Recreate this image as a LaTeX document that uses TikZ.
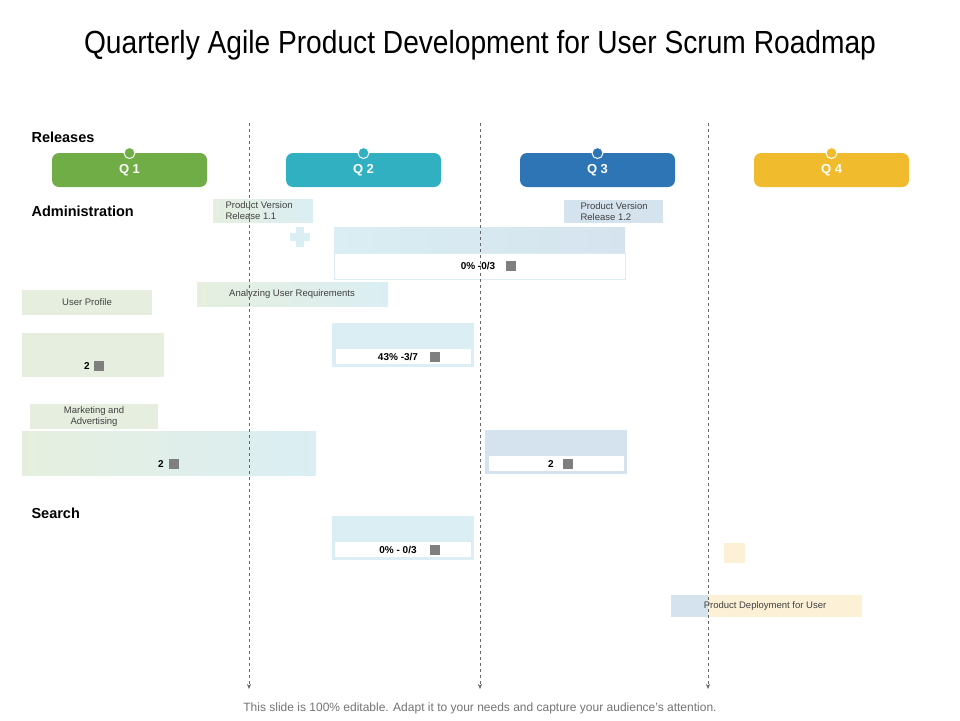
\documentclass[tikz,border=0pt]{standalone}
\usepackage{fontspec}
\setmainfont{Liberation Sans}
\usetikzlibrary{arrows.meta}
\definecolor{qg}{HTML}{70AD47}\definecolor{qt}{HTML}{31B0C1}
\definecolor{qb}{HTML}{2E75B6}\definecolor{qy}{HTML}{F0BC2E}
\definecolor{lg}{HTML}{E6EFDF}\definecolor{lb}{HTML}{DAEEF3}
\definecolor{ls}{HTML}{D5E3EE}\definecolor{cr}{HTML}{FCF1D6}
\definecolor{sq}{HTML}{7F7F7F}
\tikzset{
 pill/.style={rounded corners=7pt,minimum width=155pt,minimum height=34pt,inner sep=0pt,font=\bfseries\fontsize{13}{13}\selectfont,text=white},
 dot/.style={circle,draw=white,line width=1pt,minimum size=11pt,inner sep=0pt},
 head/.style={anchor=west,font=\bfseries\fontsize{14.5}{14.5}\selectfont},
 lbl/.style={font=\fontsize{9.5}{11}\selectfont,text=black!75,align=left},
 val/.style={font=\bfseries\fontsize{10}{10}\selectfont},
 vline/.style={dashed,draw=black!60,-{Stealth[length=5pt,width=4pt]}},
}
\newcommand{\sqm}[1]{\fill[sq] (#1) ++(-5,-5) rectangle ++(10,10);}
\begin{document}
\begin{tikzpicture}[x=1pt,y=-1pt]
\useasboundingbox (0,0) rectangle (960,720);
\node (title) at (480,45) {\fontsize{32}{32}\selectfont\addfontfeature{FakeStretch=0.88}Quarterly Agile Product Development for User Scrum Roadmap};
\shade[left color=lg,right color=lb] (213,199) rectangle (313,222);
\node[lbl,anchor=west] (pv1) at (222,210.5) {Product Version\\Release 1.1};
\fill[lb] (296,227) rectangle (304,247); \fill[lb] (290,233) rectangle (310,241);
\shade[left color=lb,right color=ls] (334,227) rectangle (625,253);
\draw[lb,fill=white] (334,253) rectangle (625,279);
\node[val] (v1) at (478,266) {0\% -0/3}; \sqm{511,266}
\fill[ls] (564,200) rectangle (663,223);
\node[lbl,anchor=west] (pv2) at (577,211.5) {Product Version\\Release 1.2};
\shade[left color=lg,right color=lb] (197,282) rectangle (388,306);
\node[lbl] (aur) at (292,294) {Analyzing User Requirements};
\fill[lg] (22,290) rectangle (152,315);
\node[lbl] (up) at (87,302.5) {User Profile};
\fill[lg] (22,333) rectangle (164,377);
\node[val] (v2) at (87,366) {2}; \sqm{99,366}
\fill[lb] (332,323) rectangle (474,367); \fill[white] (336,349) rectangle (471,364);
\node[val] (v3) at (398,357) {43\% -3/7}; \sqm{435,357}
\fill[lg] (30,404) rectangle (158,429);
\node[lbl,align=center] (ma) at (94,416.5) {Marketing and\\Advertising};
\shade[left color=lg,right color=lb] (22,431) rectangle (316,475);
\node[val] (v4) at (161,464) {2}; \sqm{174,464}
\fill[ls] (485,430) rectangle (627,474); \fill[white] (489,456) rectangle (624,471);
\node[val] (v5) at (551,464) {2}; \sqm{568,464}
\fill[lb] (332,516) rectangle (474,560); \fill[white] (335,542) rectangle (471,557);
\node[val] (v6) at (398,550) {0\% - 0/3}; \sqm{435,550}
\fill[cr] (724,543) rectangle (745,563);
\fill[ls] (671,595) rectangle (708,617); \fill[cr] (708,595) rectangle (862,617);
\node[lbl] (pd) at (765,606) {Product Deployment for User};
\coordinate (t1) at (249,123); \coordinate (b1) at (249,689);
\coordinate (t2) at (480,123); \coordinate (b2) at (480,689);
\coordinate (t3) at (708,123); \coordinate (b3) at (708,689);
\draw[vline] (t1) -- (b1); \draw[vline] (t2) -- (b2); \draw[vline] (t3) -- (b3);
\node[head] (rel) at (28,137) {Releases};
\node[head] (adm) at (28,211) {Administration};
\node[head] (sea) at (28,513) {Search};
\node[pill,fill=qg] (q1) at (129.5,170) {Q 1}; \node[dot,fill=qg] (d1) at (129.5,153) {};
\node[pill,fill=qt] (q2) at (363.5,170) {Q 2}; \node[dot,fill=qt] (d2) at (363.5,153) {};
\node[pill,fill=qb] (q3) at (597.5,170) {Q 3}; \node[dot,fill=qb] (d3) at (597.5,153) {};
\node[pill,fill=qy] (q4) at (831.5,170) {Q 4}; \node[dot,fill=qy] (d4) at (831.5,153) {};
\node[text=black!55,font=\fontsize{12}{12}\selectfont] (foot) at (480,708) {This slide is 100\% editable. Adapt it to your needs and capture your audience's attention.};
\end{tikzpicture}
\end{document}
